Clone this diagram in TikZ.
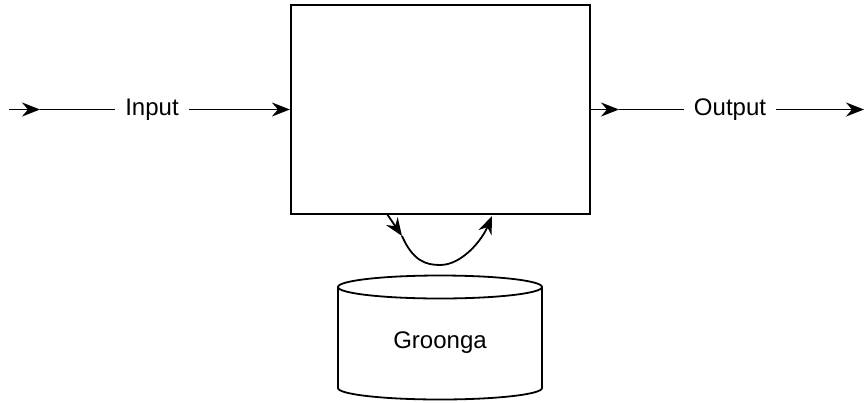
\documentclass[tikz,border=0pt]{standalone}
\usepackage{fontspec}
\setmainfont{Liberation Sans}
\usetikzlibrary{arrows.meta}

\begin{document}
\begin{tikzpicture}[x=0.5pt,y=-0.5pt,
  line width=0.9pt,
  arr/.style={-{Stealth[length=9pt,width=7pt,inset=3pt]}},
  lbl/.style={font=\fontsize{12}{14}\selectfont, inner sep=4.5pt}]
\useasboundingbox (0,0) rectangle (867,402);

%Shape: Rectangle
\node[draw, line width=1.1pt, minimum width=149.5pt, minimum height=104.5pt, inner sep=0pt] (proc) at (440.5,109.5) {};

%Shape: Can
\draw (440,287) ellipse [x radius=51pt, y radius=5.75pt];
\draw (338,287) -- (338,388) arc [start angle=180, end angle=360, x radius=51pt, y radius=5.75pt] -- (542,287);

% Text Node
\node[lbl] (input) at (152,109.5) {Input};
% Text Node
\node[lbl] (output) at (730,109.5) {Output};
% Text Node
\node[lbl] (db) at (440,343) {Groonga};

\coordinate (inStart) at (9,109.5);
\coordinate (inTip) at (40,109.5);
\coordinate (outTip) at (619,109.5);
\coordinate (outEnd) at (864,109.5);

\draw[arr] (inStart) -- (inTip);
\draw (inTip) -- (input);
\draw[arr] (input) -- (proc.west);
\draw[arr] (proc.east) -- (outTip);
\draw (outTip) -- (output);
\draw[arr] (output) -- (outEnd);

%Curve: query loop under the box
\coordinate (loopStart) at (387,214);
\coordinate (loopTip) at (402,236);
\coordinate (loopEnd) at (492,216);
\draw[arr] (loopStart) -- (loopTip);
\draw[arr] (loopTip) .. controls (413,261) and (426,265) .. (440,265) .. controls (462,265) and (482,240) .. (loopEnd);

\end{tikzpicture}
\end{document}
